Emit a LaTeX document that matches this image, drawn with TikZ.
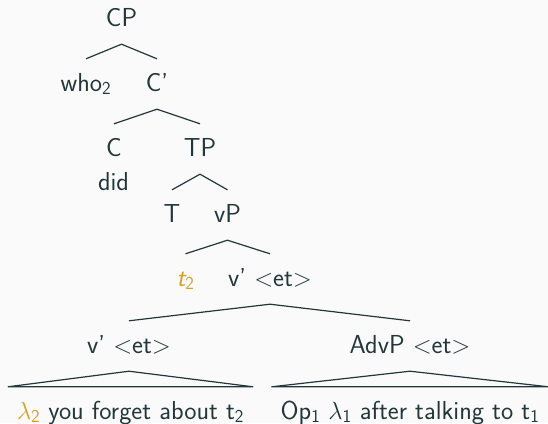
\documentclass[tikz,border=0pt]{standalone}
\usepackage{fontspec}
\definecolor{txt}{HTML}{23373B}
\definecolor{gold}{RGB}{212,160,40}
\definecolor{bg}{HTML}{FAFAFA}
\begin{document}
\begin{tikzpicture}[x=1pt,y=-1pt,
  lab/.style={anchor=base, text=txt, font=\sffamily\fontsize{26}{30}\selectfont,
    text height=18pt, text depth=4pt, inner ysep=14pt, inner xsep=9pt},
  edge/.style={draw=txt, line width=1.2pt}]
\fill[bg] (0,0) rectangle (548,423);
\useasboundingbox (0,0) rectangle (548,423);
\node[lab] (cp) at (121.5,26) {CP};
\node[lab] (who) at (86,91) {who\textsubscript{2}};
\node[lab] (cbar) at (157,91) {C'};
\node[lab] (c) at (114,156) {C};
\node[lab] (tp) at (200,156) {TP};
\node[lab] (did) at (113.5,190) {did};
\node[lab] (t) at (172,222) {T};
\node[lab] (vp) at (227.5,222) {vP};
\node[lab] (tr) at (185.5,286) {\textcolor{gold}{\itshape t\textsubscript{\upshape 2}}};
\node[lab] (vbar) at (270,286) {v'~$<$et$>$};
\node[lab] (vbarb) at (129,353) {v'~$<$et$>$};
\node[lab] (advp) at (410,353) {AdvP~$<$et$>$};
\node[lab] (leafl) at (130.5,419) {\textcolor{gold}{$\lambda$\textsubscript{2}} you forget about t\textsubscript{2}};
\node[lab] (leafr) at (410,419) {Op\textsubscript{1} $\lambda$\textsubscript{1} after talking to t\textsubscript{1}};
\draw[edge] (who.north) -- (cp.south) -- (cbar.north);
\draw[edge] (c.north) -- (cbar.south) -- (tp.north);
\draw[edge] (t.north) -- (tp.south) -- (vp.north);
\draw[edge] (tr.north) -- (vp.south) -- (vbar.north);
\draw[edge] (vbarb.north) -- (vbar.south) -- (advp.north);
\draw[edge] (vbarb.south) -- (leafl.north west) -- (leafl.north east) -- cycle;
\draw[edge] (advp.south) -- (leafr.north west) -- (leafr.north east) -- cycle;
\end{tikzpicture}
\end{document}
